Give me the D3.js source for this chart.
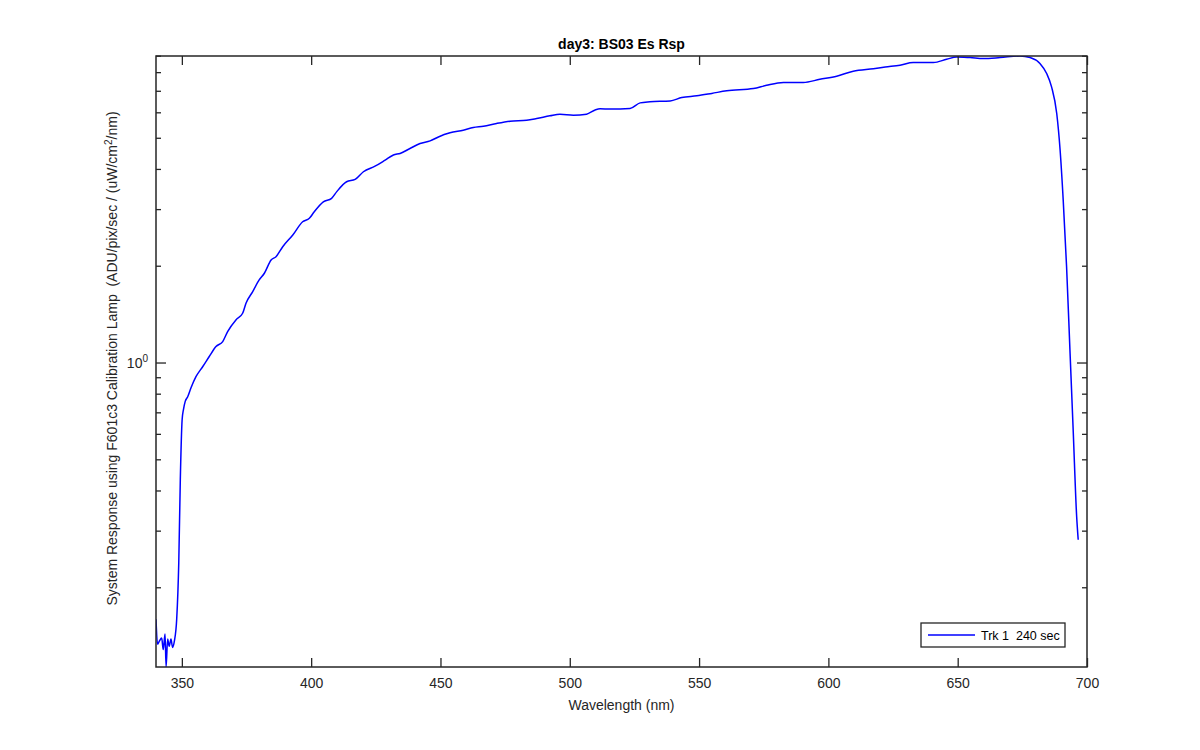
<!DOCTYPE html>
<html>
<head>
<meta charset="utf-8">
<script src="https://cdn.jsdelivr.net/npm/d3@7"></script>
<style>
  html, body { margin: 0; padding: 0; background: #fff; }
  svg text { font-family: "Liberation Sans", Arial, Helvetica, sans-serif; fill: #262626; white-space: pre; }
</style>
</head>
<body>
<svg id="chart" width="1200" height="750"></svg>
<script>
// ---- data ----
const wavelength = [
  340.0, 340.6, 341.3, 342.2, 342.8, 343.5, 343.9, 344.5, 345.1, 345.8,
  346.4, 347.1, 348.0, 348.8, 349.4, 350.1, 350.6, 351.3, 352.3, 353.5,
  355.5, 358.1, 360.6, 363.2, 365.8, 367.7, 370.9, 373.5, 374.8, 377.4,
  379.9, 381.9, 384.5, 386.4, 389.0, 392.9, 396.7, 399.3, 401.2, 404.7,
  407.9, 409.9, 413.7, 417.0, 420.2, 424.7, 428.6, 431.8, 434.4, 438.2,
  442.1, 446.0, 449.2, 453.7, 458.8, 462.7, 466.6, 471.7, 476.9, 483.3,
  487.2, 492.3, 496.2, 501.4, 506.5, 509.8, 511.7, 515.6, 523.3, 527.2,
  531.0, 538.8, 543.3, 549.1, 554.9, 560.7, 571.0, 576.1, 582.6, 590.3,
  596.7, 603.2, 609.6, 617.4, 622.0, 627.7, 632.8, 640.6, 645.7, 649.6,
  654.8, 659.9, 666.4, 674.1, 678.0, 681.8, 684.4, 686.3, 688.3, 689.6,
  690.8, 692.1, 693.4, 694.7, 696.0, 696.6
];
const response = [
  0.159, 0.133, 0.136, 0.139, 0.128, 0.143, 0.113, 0.138, 0.131, 0.138,
  0.130, 0.136, 0.159, 0.238, 0.432, 0.664, 0.713, 0.757, 0.784, 0.833,
  0.905, 0.972, 1.044, 1.121, 1.162, 1.248, 1.357, 1.423, 1.529, 1.662,
  1.807, 1.895, 2.084, 2.134, 2.292, 2.493, 2.741, 2.809, 2.944, 3.16,
  3.24, 3.40, 3.65, 3.71, 3.92, 4.08, 4.26, 4.42, 4.47, 4.63,
  4.80, 4.89, 5.03, 5.18, 5.28, 5.38, 5.43, 5.54, 5.63, 5.67,
  5.74, 5.85, 5.92, 5.88, 5.92, 6.10, 6.15, 6.14, 6.17, 6.42,
  6.47, 6.51, 6.67, 6.75, 6.87, 7.00, 7.11, 7.28, 7.43, 7.43,
  7.60, 7.77, 8.05, 8.20, 8.30, 8.41, 8.57, 8.57, 8.77, 8.92,
  8.88, 8.82, 8.88, 8.98, 8.88, 8.51, 7.92, 7.20, 5.95, 4.58,
  3.20, 1.99, 1.095, 0.604, 0.332, 0.281
];
const xTicks = [350, 400, 450, 500, 550, 600, 650, 700];
const yMinorTicks = [0.2, 0.3, 0.4, 0.5, 0.6, 0.7, 0.8, 0.9, 2, 3, 4, 5, 6, 7, 8, 9];
const yMajorTicks = [1];
const titleText = "day3: BS03 Es Rsp";
const xLabelText = "Wavelength (nm)";
const legendText = "Trk 1  240 sec";

// ---- layout ----
const L = 156, R = 1087, T = 56, B = 667;
const axisColor = "#262626";
const FS = "14px";

const svg = d3.select("#chart");
const data = wavelength.map((w, i) => ({ w, v: response[i] }));

const x = d3.scaleLinear().domain([340, 700]).range([L, R]);
const yExt = d3.extent(response);
const y = d3.scaleLog().domain(yExt).range([B, T]);

// clip
svg.append("defs").append("clipPath").attr("id", "clip")
  .append("rect").attr("x", L).attr("y", T).attr("width", R - L).attr("height", B - T);

// data line
const line = d3.line().x(d => x(d.w)).y(d => y(d.v)).curve(d3.curveMonotoneX);
svg.append("path")
  .datum(data)
  .attr("clip-path", "url(#clip)")
  .attr("fill", "none")
  .attr("stroke", "#0000ff")
  .attr("stroke-width", 1.5)
  .attr("stroke-linejoin", "round")
  .attr("d", line);

// axes (bottom, top, left, right) with inward ticks
const xb = svg.append("g").attr("transform", `translate(0,${B})`)
  .call(d3.axisBottom(x).tickValues(xTicks).tickSizeInner(-9).tickSizeOuter(0).tickPadding(21).tickFormat(d3.format("d")));
const xt = svg.append("g").attr("transform", `translate(0,${T})`)
  .call(d3.axisTop(x).tickValues(xTicks).tickSizeInner(-9).tickSizeOuter(0).tickFormat(""));

const yl = svg.append("g").attr("transform", `translate(${L},0)`)
  .call(d3.axisLeft(y).tickValues(yMinorTicks).tickSizeInner(-5).tickSizeOuter(0).tickFormat(""));
const ylMaj = svg.append("g").attr("transform", `translate(${L},0)`)
  .call(d3.axisLeft(y).tickValues(yMajorTicks).tickSizeInner(-10).tickSizeOuter(0).tickFormat(""));
const yr = svg.append("g").attr("transform", `translate(${R},0)`)
  .call(d3.axisRight(y).tickValues(yMinorTicks).tickSizeInner(-5).tickSizeOuter(0).tickFormat(""));
const yrMaj = svg.append("g").attr("transform", `translate(${R},0)`)
  .call(d3.axisRight(y).tickValues(yMajorTicks).tickSizeInner(-10).tickSizeOuter(0).tickFormat(""));

[xb, xt, yl, ylMaj, yr, yrMaj].forEach(g => {
  g.select(".domain").remove();
  g.selectAll(".tick line").attr("stroke", axisColor).attr("stroke-width", 1.3);
  g.selectAll(".tick text").attr("fill", axisColor).style("font-size", FS)
    .style("font-family", '"Liberation Sans", Arial, sans-serif');
});
xb.selectAll(".tick text").attr("dy", "0");

// box
svg.append("rect").attr("x", L).attr("y", T).attr("width", R - L).attr("height", B - T)
  .attr("fill", "none").attr("stroke", axisColor).attr("stroke-width", 1.5);

// y major label 10^0
yMajorTicks.forEach(v => {
  const t = svg.append("text")
    .attr("x", L - 8).attr("y", y(v) + 5)
    .attr("text-anchor", "end")
    .style("font-size", FS);
  t.append("tspan").text("10");
  t.append("tspan").attr("dy", -6).style("font-size", "10px").text(Math.round(Math.log10(v)));
});

// title
svg.append("text")
  .attr("x", (L + R) / 2).attr("y", 49)
  .attr("text-anchor", "middle")
  .style("font-size", FS).style("font-weight", "bold")
  .style("fill", "#000")
  .text(titleText);

// x label
svg.append("text")
  .attr("x", (L + R) / 2).attr("y", 710)
  .attr("text-anchor", "middle")
  .style("font-size", FS)
  .text(xLabelText);

// y label with superscript
const yLab = svg.append("text")
  .attr("transform", `translate(117,${(T + B) / 2 - 3}) rotate(-90)`)
  .attr("text-anchor", "middle")
  .style("font-size", FS);
yLab.append("tspan").text("System Response using F601c3 Calibration Lamp  (ADU/pix/sec / (uW/cm");
yLab.append("tspan").attr("dy", -5).style("font-size", "10px").text("2");
yLab.append("tspan").attr("dy", 5).text("/nm)");

// legend
const lg = svg.append("g");
lg.append("rect").attr("x", 921).attr("y", 623).attr("width", 144).attr("height", 24)
  .attr("fill", "#fff").attr("stroke", axisColor).attr("stroke-width", 1.3);
lg.append("line").attr("x1", 928).attr("x2", 975).attr("y1", 635).attr("y2", 635)
  .attr("stroke", "#0000ff").attr("stroke-width", 1.5);
lg.append("text").attr("x", 981).attr("y", 639.5).style("font-size", "12.5px").style("fill", "#000")
  .text(legendText);
</script>
</body>
</html>
